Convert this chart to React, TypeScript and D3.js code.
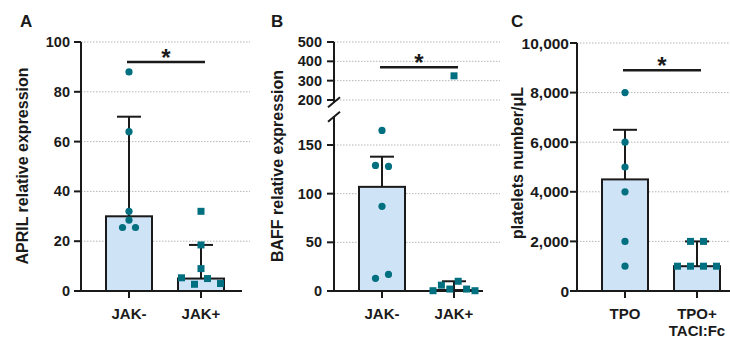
import * as d3 from 'd3';

// panel A - APRIL
const aprilCats = [['JAK-'], ['JAK+']];
const aprilMean = [30, 5];
const aprilSd = [70, 18.5];
const aprilNeg = [88, 64, 32, 28.5, 25.5, 25.5];
const aprilPos = [32, 18.5, 9, 5.3, 2.7, 5, 3];
const aprilTicks = [0, 20, 40, 60, 80, 100];

// panel B - BAFF (broken axis)
const baffCats = [['JAK-'], ['JAK+']];
const baffMean = [107, 1];
const baffSd = [138, 10];
const baffNeg = [165, 129, 128, 87, 13, 17];
const baffPos = [325, 0.3, 6, 2, 10, 2, 0.3];
const baffTicksLow = [0, 50, 100, 150];
const baffTicksHigh = [200, 300, 400, 500];

// panel C - platelets
const pltCats = [['TPO'], ['TPO+', 'TACI:Fc']];
const pltMean = [4500, 1000];
const pltSd = [6500, 2000];
const pltTpo = [8000, 6000, 5000, 4000, 2000, 1000];
const pltTaci = [2000, 2000, 1000, 1000, 1000, 1000];
const pltTicks = [0, 2000, 4000, 6000, 8000, 10000];

const sigLevel = [92, 370, 8900];

const FONT = '"Liberation Sans", Arial, sans-serif';
const INK = '#1a1a1a';
const BAR = '#cfe3f7';
const DOT = '#006f80';
const Y0 = 291;

// simple row based scatter: points close in y share a row and spread sideways
function swarm(vals, y, cx, h) {
  const rows = [];
  vals.forEach(v => {
    const py = y(v);
    const last = rows[rows.length - 1];
    if (last && Math.abs(py - last.y0) < h) last.items.push(py);
    else rows.push({ y0: py, items: [py] });
  });
  return rows.flatMap(r => {
    const n = r.items.length;
    const s = n > 1 ? Math.min(13, 42 / (n - 1)) : 0;
    return r.items.map((py, i) => ({ x: cx + (i - (n - 1) / 2) * s, y: py }));
  });
}

function Panel({ p }) {
  const keys = p.cats.map(c => c.join(' '));
  const x = d3.scalePoint().domain(keys).range([p.axisX + 48, p.axisX + 120]);
  const y = p.y;
  return (
    <g>
      <text x={p.letterX} y={27} fontSize={17} fontWeight="bold" fill={INK}>{p.letter}</text>
      <text transform={`translate(${p.titleX},${p.titleY}) rotate(-90)`} textAnchor="middle"
        dominantBaseline="central" fontSize={16} fontWeight="bold" fill={INK}>{p.title}</text>
      {/* grid */}
      {p.ticks.filter(t => t > 0).map(t => (
        <line key={'g' + t} x1={p.axisX} x2={p.gridEnd} y1={y(t)} y2={y(t)}
          stroke="#b5b5b5" strokeWidth={1} strokeDasharray="1.5,1.5" />
      ))}
      {/* y axis */}
      {p.segments.map((s, i) => (
        <line key={'s' + i} x1={p.axisX} x2={p.axisX} y1={y(s[0]) + (i === 0 ? 1 : 0)} y2={y(s[1])}
          stroke={INK} strokeWidth={2} />
      ))}
      {p.breaks.map((b, i) => (
        <line key={'b' + i} x1={p.axisX - 6} x2={p.axisX + 6} y1={y(b) + 5} y2={y(b) - 5}
          stroke={INK} strokeWidth={2} />
      ))}
      {p.ticks.map(t => (
        <g key={'t' + t}>
          <line x1={p.axisX - 7} x2={p.axisX} y1={y(t)} y2={y(t)} stroke={INK} strokeWidth={2} />
          <text x={p.axisX - p.labelGap} y={y(t)} textAnchor="end" dominantBaseline="central"
            fontSize={p.tickSize} fontWeight="bold" fill={INK}>{p.fmt(t)}</text>
        </g>
      ))}
      {/* bars */}
      {keys.map((k, i) => (
        <g key={'bar' + k}>
          <rect x={x(k) - 23} width={46} y={y(p.mean[i])} height={Y0 - y(p.mean[i])}
            fill={BAR} stroke={INK} strokeWidth={2} />
          <line x1={x(k)} x2={x(k)} y1={y(p.mean[i])} y2={y(p.sd[i])} stroke={INK} strokeWidth={2} />
          <line x1={x(k) - 12} x2={x(k) + 12} y1={y(p.sd[i])} y2={y(p.sd[i])} stroke={INK} strokeWidth={2} />
        </g>
      ))}
      {/* x axis */}
      <line x1={p.axisX - 7} x2={p.axisEnd} y1={Y0} y2={Y0} stroke={INK} strokeWidth={2} />
      {keys.map((k, i) => (
        <g key={'x' + k}>
          <line x1={x(k)} x2={x(k)} y1={Y0} y2={Y0 + 7} stroke={INK} strokeWidth={2} />
          {p.cats[i].map((line, j) => (
            <text key={j} x={x(k)} y={313 + j * 17} textAnchor="middle" dominantBaseline="central"
              fontSize={15} fontWeight="bold" fill={INK}>{line}</text>
          ))}
        </g>
      ))}
      {/* points */}
      {p.groups.map((g, i) => swarm(g, y, x(keys[i]), p.rowH).map((pt, j) =>
        p.shapes[i] === 'circle'
          ? <circle key={i + '-' + j} cx={pt.x} cy={pt.y} r={3.6} fill={DOT} />
          : <rect key={i + '-' + j} x={pt.x - 3.5} y={pt.y - 3.5} width={7} height={7} fill={DOT} />
      ))}
      {/* significance */}
      <line x1={x(keys[0]) - 2} x2={x(keys[1]) + 4} y1={y(p.sig)} y2={y(p.sig)} stroke={INK} strokeWidth={2.5} />
      <text x={(x(keys[0]) + x(keys[1])) / 2 + 1} y={y(p.sig) + 4} textAnchor="middle"
        fontSize={24} fontWeight="bold" fill={INK}>*</text>
    </g>
  );
}

export default function App() {
  const yA = d3.scaleLinear().domain([0, 100]).range([Y0, 42]);
  const yLow = d3.scaleLinear().domain([0, 150]).range([Y0, 145]);
  const yHigh = d3.scaleLinear().domain([200, 500]).range([100, 42]);
  const yB = v => (v >= 185 ? yHigh(v) : yLow(v));
  const yC = d3.scaleLinear().domain([0, 10000]).range([Y0, 43]);

  const panels = [
    {
      letter: 'A', letterX: 20, axisX: 81, title: 'APRIL relative expression', titleX: 22, titleY: 166,
      cats: aprilCats, mean: aprilMean, sd: aprilSd, groups: [aprilNeg, aprilPos], shapes: ['circle', 'square'],
      y: yA, ticks: aprilTicks, segments: [[0, 100]], breaks: [], fmt: d3.format('d'),
      gridEnd: 250, axisEnd: 242, labelGap: 11, tickSize: 14.5, rowH: 7, sig: sigLevel[0],
    },
    {
      letter: 'B', letterX: 271, axisX: 334, title: 'BAFF relative expression', titleX: 277, titleY: 166,
      cats: baffCats, mean: baffMean, sd: baffSd, groups: [baffNeg, baffPos], shapes: ['circle', 'square'],
      y: yB, ticks: [...baffTicksLow, ...baffTicksHigh], segments: [[0, 179], [188, 500]], breaks: [179, 188],
      fmt: d3.format('d'), gridEnd: 500, axisEnd: 483, labelGap: 12, tickSize: 14.5, rowH: 10, sig: sigLevel[1],
    },
    {
      letter: 'C', letterX: 511, axisX: 577, title: 'platelets number/μL', titleX: 517, titleY: 163,
      cats: pltCats, mean: pltMean, sd: pltSd, groups: [pltTpo, pltTaci], shapes: ['circle', 'square'],
      y: yC, ticks: pltTicks, segments: [[0, 10000]], breaks: [], fmt: d3.format(','),
      gridEnd: 730, axisEnd: 730, labelGap: 8, tickSize: 15.5, rowH: 7, sig: sigLevel[2],
    },
  ];

  return (
    <svg width={730} height={338} style={{ position: 'absolute', left: 0, top: 0, background: '#fff' }}
      fontFamily={FONT}>
      {panels.map(p => <Panel key={p.letter} p={p} />)}
    </svg>
  );
}
